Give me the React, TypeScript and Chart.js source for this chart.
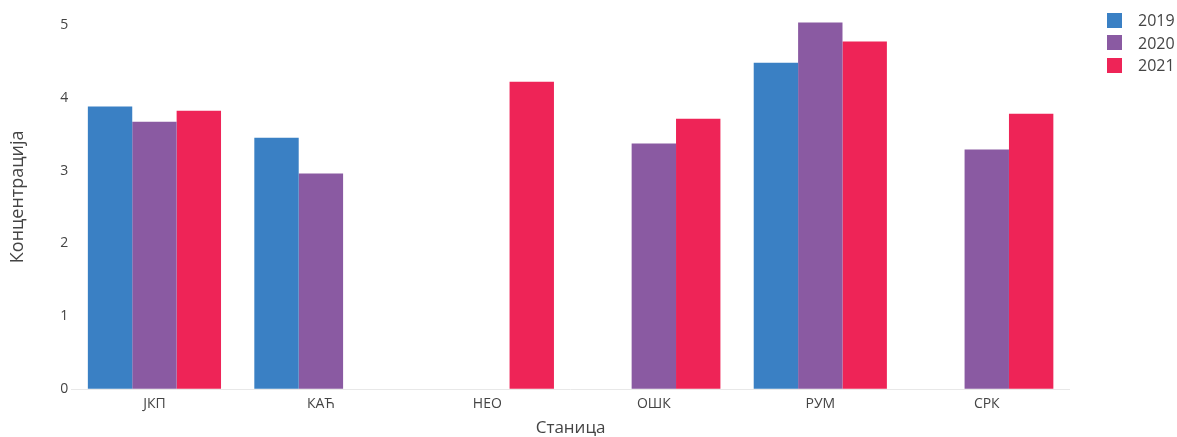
import React, { useEffect, useRef } from "react";
import { Chart, registerables } from "chart.js";

Chart.register(...registerables);

const categories = ["ЈКП", "КАЋ", "НЕО", "ОШК", "РУМ", "СРК"];
const values2019 = [3.88, 3.45, null, null, 4.48, null];
const values2020 = [3.67, 2.96, null, 3.37, 5.03, 3.29];
const values2021 = [3.82, null, 4.22, 3.71, 4.77, 3.78];
const seriesLabels = ["2019", "2020", "2021"];
const seriesColors = ["#3A80C4", "#8A5AA2", "#EE2457"];
const yTicks = [0, 1, 2, 3, 4, 5];

export default function App() {
  const ref = useRef<HTMLCanvasElement | null>(null);
  useEffect(() => {
    document.body.style.margin = "0";
    const canvas = ref.current;
    if (!canvas) return;
    const series = [values2019, values2020, values2021];
    const chart = new Chart(canvas, {
      type: "bar",
      data: {
        labels: categories,
        datasets: series.map((d, i) => ({
          label: seriesLabels[i],
          data: d,
          backgroundColor: seriesColors[i],
          borderWidth: 0,
          categoryPercentage: 0.8,
          barPercentage: 1.0,
        })),
      },
      options: {
        responsive: false,
        animation: false,
        layout: { padding: { top: 2, right: 107, left: 0, bottom: 0 } },
        plugins: {
          legend: { display: false },
          tooltip: { enabled: false },
        },
        scales: {
          x: {
            grid: { display: false, drawTicks: false },
            border: { display: false },
            ticks: {
              color: "#444",
              font: { family: "'Open Sans'", size: 14 },
              padding: 6,
              maxRotation: 0,
            },
            title: {
              display: true,
              text: "Станица",
              color: "#444",
              font: { family: "'Open Sans'", size: 17, lineHeight: 1.0 },
              padding: { top: 2, bottom: 0 },
            },
          },
          y: {
            min: 0,
            max: 5.28,
            afterBuildTicks: (axis: any) => {
              axis.ticks = yTicks.map((v) => ({ value: v }));
            },
            grid: {
              color: (c: any) => (c.tick && c.tick.value === 0 ? "#e8e8e8" : "rgba(0,0,0,0)"),
              drawTicks: false,
            },
            border: { display: false },
            ticks: {
              color: "#444",
              font: { family: "'Open Sans'", size: 14, lineHeight: 0.2 },
              padding: 3,
            },
            title: {
              display: true,
              text: "Концентрација",
              color: "#444",
              font: { family: "'Open Sans'", size: 18 },
              padding: { top: 7, bottom: 28.6 },
            },
          },
        },
      },
    });
    return () => chart.destroy();
  }, []);
  return (
    <div style={{ position: "relative", width: 1177, height: 437 }}>
      <canvas ref={ref} width={1177} height={437} style={{ display: "block" }} />
      <div style={{ position: "absolute", left: 1107, top: 9 }}>
        {seriesLabels.map((l, i) => (
          <div
            key={l}
            style={{
              display: "flex",
              alignItems: "center",
              height: 22.5,
              fontFamily: "'Open Sans'",
              fontSize: 16,
              color: "#444",
            }}
          >
            <span
              style={{
                display: "inline-block",
                width: 15,
                height: 15,
                background: seriesColors[i],
                marginRight: 16,
              }}
            />
            <span>{l}</span>
          </div>
        ))}
      </div>
    </div>
  );
}
